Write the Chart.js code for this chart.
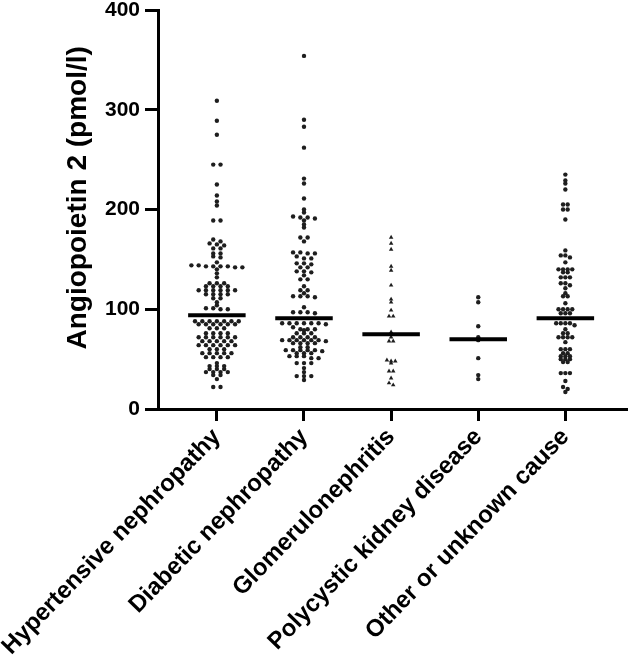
<!DOCTYPE html>
<html><head><meta charset="utf-8">
<script src="https://cdn.jsdelivr.net/npm/chart.js@4.4.1/dist/chart.umd.min.js"></script>
<style>html,body{margin:0;padding:0;background:#fff;} canvas{display:block;}</style>
</head><body>
<canvas id="c" width="630" height="656"></canvas>
<script>
const categories = ["Hypertensive nephropathy", "Diabetic nephropathy", "Glomerulonephritis", "Polycystic kidney disease", "Other or unknown cause"];
const yTickValues = [0, 100, 200, 300, 400];
const yTitle = "Angiopoietin 2 (pmol/l)";

const hypertensive = [309, 289, 275, 245, 245, 225, 214, 208, 204, 189, 189, 170, 168, 166, 165, 164, 161, 161, 156, 156, 153, 152, 147,
  144, 144, 143, 143, 143, 143, 142, 142, 140, 136, 132, 126, 126, 126, 123, 123, 123, 123, 119, 119, 119, 119, 119, 119,
  115, 115, 115, 115, 111, 111, 107, 104, 101, 101, 100, 100, 88, 88, 88, 88, 88, 88, 88, 85, 85, 85, 85, 85, 85,
  81, 81, 81, 76, 76, 76, 76, 72, 72, 72, 72, 72, 72, 68, 68, 68, 68, 68, 64, 64, 64, 64, 64, 64, 60, 60, 60,
  56, 56, 56, 56, 56, 52, 52, 52, 52, 46, 43, 43, 43, 40, 40, 40, 37, 37, 37, 37, 34, 34, 30, 22, 22];
const diabetic = [354, 290, 283, 262, 231, 226, 211, 200, 197, 193, 192, 192, 191, 189, 185, 182, 172, 172, 168, 157, 157, 156, 156,
  153, 151, 151, 146, 146, 145, 142, 142, 138, 138, 137, 134, 130, 130, 123, 119, 119, 116, 113, 113, 113, 112, 102,
  97, 97, 97, 96, 86, 86, 86, 86, 86, 86, 85, 82, 80, 80, 80, 79, 76, 76, 76, 72, 72, 72, 72, 69, 69, 69, 69, 69, 69, 68,
  66, 66, 66, 66, 62, 62, 59, 59, 59, 59, 59, 58, 56, 56, 56, 53, 53, 53, 51, 51, 46, 46, 46, 41, 37, 33, 33, 33, 29];
const glomerulonephritis = [172, 166, 160, 143, 139, 124, 110, 107, 99, 93, 93, 77, 72, 68, 68, 49, 48, 48, 46, 38, 38, 31, 26, 24];
const polycystic = [112, 107, 83, 72, 69, 51, 34, 30];
const otherCause = [235, 229, 226, 220, 205, 205, 200, 200, 190, 159, 154, 154, 152, 147, 140, 140, 140, 140, 137, 137, 132, 132, 132,
  126, 126, 124, 121, 116, 113, 113, 106, 100, 100, 100, 100, 96, 96, 96, 86, 86, 86, 86, 84, 80, 76, 76, 72, 72, 72, 72,
  67, 60, 60, 60, 56, 56, 53, 53, 53, 50, 50, 50, 47, 47, 36, 36, 36, 28, 22, 20, 17];
const medians = [94, 91, 75, 70, 91];

const groups = [hypertensive, diabetic, glomerulonephritis, polycystic, otherCause];
const pointStyles = ['circle', 'circle', 'triangle', 'circle', 'circle'];
const swarmSpacingPx = [7.3, 7.3, 4.2, 4.4, 4.6];
const pxPerCategory = 87.3;
const rowHeight = 2;

function swarm(values, sx, idx) {
  const sorted = values.slice().sort((a, b) => b - a);
  const pts = [];
  let row = [];
  const flush = () => {
    const n = row.length;
    row.forEach((v, i) => pts.push({ x: idx + 1 + ((i - (n - 1) / 2) * sx) / pxPerCategory, y: v }));
    row = [];
  };
  for (const v of sorted) {
    if (row.length && row[0] - v > rowHeight) flush();
    row.push(v);
  }
  flush();
  return pts;
}

const datasets = [];
medians.forEach((m, i) => {
  datasets.push({
    type: 'line', showLine: true, order: 0,
    data: [{ x: i + 1 - 0.33, y: m }, { x: i + 1 + 0.33, y: m }],
    borderColor: '#000', borderWidth: 4, pointRadius: 0, borderCapStyle: 'butt'
  });
});
groups.forEach((g, i) => {
  datasets.push({
    order: 1,
    data: swarm(g, swarmSpacingPx[i], i),
    pointStyle: pointStyles[i],
    pointRadius: pointStyles[i] === 'triangle' ? 2.6 : 2.2,
    backgroundColor: '#1e1e1e', borderColor: '#1e1e1e', borderWidth: 0
  });
});

const FONT = "'Liberation Sans', Arial, sans-serif";

new Chart(document.getElementById('c'), {
  type: 'scatter',
  data: { datasets },
  options: {
    responsive: false, animation: false, devicePixelRatio: 1,
    layout: { padding: { top: 10, right: 3, left: 0, bottom: 0 } },
    plugins: { legend: { display: false }, tooltip: { enabled: false } },
    scales: {
      x: {
        type: 'linear', min: 0.3242, max: 5.696,
        afterBuildTicks: (s) => { s.ticks = categories.map((c, i) => ({ value: i + 1 })); },
        afterFit: (s) => { s.height = 247; s.paddingLeft = 0; s.paddingRight = 0; },
        border: { display: true, color: '#000', width: 3 },
        grid: { display: true, drawOnChartArea: false, drawTicks: true, tickLength: 12, lineWidth: 3, tickWidth: 3, color: '#000' },
        ticks: {
          autoSkip: false, minRotation: 46, maxRotation: 46, padding: 2,
          color: '#000', font: { family: FONT, size: 24, weight: 'bold' },
          callback: (v) => categories[Math.round(v) - 1]
        }
      },
      y: {
        min: 0, max: 400,
        afterBuildTicks: (s) => { s.ticks = yTickValues.map(v => ({ value: v })); },
        afterFit: (s) => { s.width = 158; s.paddingTop = 0; s.paddingBottom = 0; },
        border: { display: true, color: '#000', width: 3 },
        grid: { display: true, drawOnChartArea: false, drawTicks: true, tickLength: 13, lineWidth: 3, tickWidth: 3, color: '#000' },
        ticks: { color: '#000', padding: 5, font: { family: FONT, size: 21, weight: 'bold' } },
        title: { display: true, text: '   ' + yTitle, color: '#000', font: { family: FONT, size: 28, weight: 'bold' }, padding: { top: 61, bottom: 0 } }
      }
    }
  }
});
</script>
</body></html>
